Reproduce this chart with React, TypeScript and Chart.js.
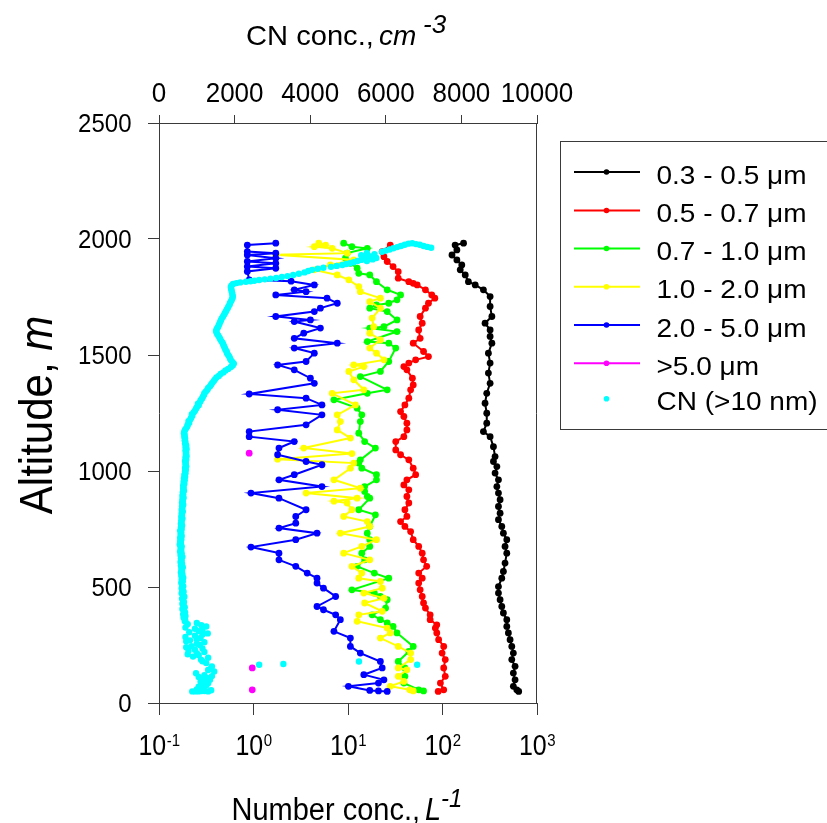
import React, { useEffect, useRef } from 'react';
import { Chart, registerables } from 'chart.js';

Chart.register(...registerables);

const W = 827;
const H = 823;
const FONT = '"Liberation Sans", Arial, Helvetica, sans-serif';
const AXIS = '#3a3a3a';

// [altitude (m), number concentration (L^-1)]
const bin03to05: [number, number][] = [
  [50, 640], [57, 611], [72, 562], [100, 586], [129, 562], [158, 586], [187, 541], [215, 562], [244, 541], [273, 519],
  [302, 498], [330, 479], [359, 479], [388, 441], [416, 424], [445, 407], [474, 391], [502, 391], [538, 424], [567, 441],
  [603, 459], [646, 479], [675, 459], [704, 479], [732, 441], [761, 424], [790, 391], [818, 407], [847, 391], [876, 407],
  [905, 391], [933, 376], [962, 391], [991, 360], [1019, 376], [1041, 346], [1062, 360], [1105, 346], [1148, 319], [1170, 271],
  [1206, 294], [1249, 294], [1292, 282], [1335, 294], [1378, 319], [1422, 306], [1465, 319], [1508, 306], [1551, 333], [1580, 319],
  [1608, 319], [1637, 282], [1666, 333], [1709, 319], [1752, 319], [1781, 271], [1802, 222], [1816, 188], [1845, 174], [1867, 154],
  [1888, 160], [1910, 142], [1931, 126], [1953, 142], [1974, 136], [1982, 167],
];

const bin05to07: [number, number][] = [
  [50, 90], [57, 103], [86, 95], [115, 107], [151, 103], [187, 107], [215, 99], [244, 103], [273, 91], [302, 87],
  [323, 84], [337, 87], [359, 74], [380, 74], [409, 66], [431, 63], [459, 61], [488, 58], [517, 56], [538, 61],
  [560, 56], [589, 68], [617, 63], [646, 61], [675, 56], [704, 49], [739, 46], [761, 40], [782, 36], [804, 42],
  [833, 40], [862, 44], [890, 42], [919, 44], [940, 39], [962, 42], [984, 52], [1012, 49], [1048, 44], [1070, 36],
  [1091, 32], [1127, 32], [1148, 39], [1177, 42], [1206, 42], [1235, 39], [1256, 36], [1285, 40], [1314, 44], [1350, 46],
  [1371, 49], [1400, 48], [1436, 42], [1450, 39], [1465, 44], [1479, 52], [1493, 71], [1515, 63], [1551, 49], [1572, 58],
  [1608, 56], [1637, 61], [1666, 58], [1702, 66], [1723, 71], [1745, 83], [1759, 77], [1781, 66], [1802, 54], [1809, 49],
  [1816, 44], [1831, 34], [1859, 34], [1881, 30], [1903, 26], [1924, 24], [1946, 23], [1974, 28],
];

const bin07to10: [number, number][] = [
  [52, 63], [57, 56], [86, 39], [115, 40], [151, 40], [179, 34], [222, 44], [244, 49], [302, 33], [330, 30],
  [345, 26], [359, 22], [380, 18], [409, 25], [445, 26], [459, 22], [474, 19], [488, 11], [538, 27], [560, 19],
  [589, 12.5], [617, 15], [646, 14], [675, 17], [704, 17], [732, 16], [761, 17], [811, 19.5], [833, 13], [883, 17],
  [890, 16], [912, 15], [933, 15], [962, 20], [984, 20], [1012, 14], [1034, 13], [1048, 13.5], [1099, 19.5], [1127, 15],
  [1163, 13], [1213, 13.5], [1242, 14], [1271, 12.5], [1307, 7.1], [1335, 16], [1350, 26], [1407, 13.5], [1429, 22], [1472, 27],
  [1530, 32], [1551, 27], [1558, 16], [1601, 33], [1616, 17], [1622, 24], [1651, 33], [1687, 26], [1702, 17], [1716, 20],
  [1723, 27], [1738, 33], [1759, 36], [1781, 26], [1816, 20], [1845, 17], [1852, 13], [1874, 12.5], [1895, 10.6], [1917, 9.4],
  [1939, 9.8], [1960, 16], [1967, 11], [1982, 9],
];

const bin10to20: [number, number][] = [
  [52, 49], [57, 45], [72, 28], [93, 39], [115, 34], [143, 42], [151, 34], [187, 46], [215, 46], [244, 34],
  [280, 22], [302, 28], [323, 26], [352, 12.5], [380, 13], [395, 23], [431, 15], [452, 24], [474, 14.7], [495, 23],
  [524, 22], [538, 13], [560, 14], [589, 11], [617, 17], [646, 9], [675, 14], [704, 20], [732, 8.3], [761, 17],
  [782, 16], [804, 9], [833, 11], [862, 9.8], [870, 7.1], [883, 12.5], [905, 3.6], [926, 13.5], [962, 7.1], [1012, 10.6],
  [1034, 11.5], [1051, 1.8], [1075, 11], [1099, 3.4], [1142, 10.6], [1177, 7.7], [1213, 8.3], [1242, 7.7], [1285, 12], [1335, 6.8],
  [1350, 14.7], [1393, 11.5], [1429, 10.2], [1450, 14.7], [1457, 11.5], [1479, 24], [1508, 20], [1530, 17], [1565, 22], [1594, 17],
  [1622, 18.7], [1659, 18], [1702, 22], [1730, 17], [1745, 22], [1773, 13.5], [1795, 13], [1824, 10.2], [1845, 7.7], [1867, 4.4],
  [1888, 6.5], [1910, 11.5], [1932, 1.7], [1939, 9.8], [1960, 6.8], [1967, 4.4], [1974, 5.8], [1982, 4.9],
];

const bin20to50: [number, number][] = [
  [50, 26], [52, 21], [54, 17], [72, 10.1], [86, 21], [100, 24], [122, 14.7], [151, 23], [179, 22], [215, 13.5],
  [244, 10.6], [280, 10.6], [309, 7.1], [359, 8.3], [380, 7.4], [402, 5.5], [416, 4.7], [459, 7.4], [495, 5.5], [517, 4.7],
  [538, 4.7], [560, 3.7], [589, 2.8], [617, 1.86], [646, 1.86], [672, 0.94], [704, 2.8], [732, 4.7], [754, 1.86], [775, 2.8],
  [804, 2.8], [833, 3.6], [883, 1.86], [905, 0.94], [933, 5.3], [962, 1.86], [984, 2.7], [1027, 5.3], [1041, 3.6], [1070, 1.8],
  [1099, 1.86], [1127, 2.7], [1148, 0.9], [1170, 0.9], [1199, 3.6], [1242, 5.3], [1264, 1.8], [1285, 5.3], [1314, 3.6], [1332, 0.9],
  [1378, 4.4], [1400, 4.0], [1436, 2.7], [1457, 1.8], [1472, 3.6], [1508, 4.4], [1530, 2.7], [1551, 7.7], [1572, 2.7], [1594, 3.4],
  [1616, 5.1], [1644, 2.7], [1651, 4.0], [1666, 1.72], [1687, 4.4], [1702, 5.1], [1723, 7.7], [1745, 6.0], [1759, 1.72], [1773, 3.6],
  [1781, 2.7], [1802, 4.4], [1818, 2.5], [1824, 0.9], [1860, 0.86], [1874, 1.72], [1881, 0.86], [1895, 1.72], [1903, 0.86], [1917, 1.72],
  [1931, 0.86], [1939, 1.72], [1946, 0.86], [1974, 0.86], [1982, 1.72],
];

const binOver50: [number, number][] = [
  [57, 0.97], [151, 0.97], [1077, 0.9],
];

// [altitude (m), CN concentration (cm^-3)]
const cnProfile: [number, number][] = [
  [50, 880], [50, 960], [50, 1050], [52, 1130], [52, 1200], [50, 1300], [55, 1380], [58, 1000], [62, 1100], [66, 1180],
  [70, 1050], [75, 1250], [80, 1150], [85, 1300], [88, 1200], [92, 1100], [96, 1250], [100, 1350], [104, 1150], [108, 1270],
  [112, 1050], [116, 1400], [120, 1200], [128, 980], [136, 1460], [142, 1300], [150, 1380], [158, 1400], [165, 2650], [168, 3290],
  [179, 5290], [165, 6830], [172, 1250], [180, 1150], [187, 1110], [195, 1300], [200, 900], [206, 1050], [210, 760], [215, 1000],
  [220, 1200], [225, 780], [230, 950], [235, 1150], [240, 720], [245, 860], [250, 1080], [255, 1000], [262, 1200], [266, 720],
  [270, 820], [275, 1000], [280, 1100], [285, 700], [290, 950], [295, 1150], [300, 1290], [305, 800], [310, 1050], [315, 1150],
  [320, 950], [325, 700], [330, 1250], [335, 1120], [340, 760], [345, 1000], [350, 700], [355, 680], [360, 690], [368, 650],
  [375, 700], [383, 640], [390, 690], [398, 660], [405, 620], [413, 680], [420, 650], [428, 620], [435, 660], [443, 640],
  [450, 610], [458, 670], [465, 640], [473, 600], [480, 650], [488, 620], [495, 600], [503, 640], [510, 610], [518, 590],
  [525, 630], [533, 600], [540, 640], [548, 590], [555, 620], [563, 580], [570, 610], [578, 590], [585, 630], [593, 580],
  [600, 610], [608, 570], [615, 600], [623, 580], [630, 620], [638, 570], [645, 600], [653, 560], [660, 590], [668, 570],
  [675, 600], [683, 550], [690, 580], [698, 560], [705, 590], [713, 560], [720, 600], [728, 570], [735, 590], [743, 560],
  [750, 600], [758, 580], [765, 610], [773, 580], [780, 600], [788, 590], [795, 620], [803, 590], [810, 610], [818, 600],
  [825, 630], [833, 600], [840, 620], [848, 610], [855, 640], [863, 610], [870, 630], [878, 620], [885, 650], [893, 620],
  [900, 640], [908, 630], [915, 660], [923, 640], [930, 650], [938, 640], [945, 670], [953, 650], [960, 680], [968, 660],
  [975, 690], [983, 670], [990, 700], [998, 690], [1005, 710], [1013, 690], [1020, 720], [1028, 700], [1035, 710], [1043, 690],
  [1050, 720], [1058, 700], [1065, 730], [1073, 710], [1080, 720], [1088, 700], [1095, 730], [1103, 700], [1110, 720], [1118, 690],
  [1125, 700], [1133, 680], [1140, 690], [1148, 670], [1155, 680], [1163, 660], [1170, 670], [1178, 690], [1185, 720], [1193, 750],
  [1200, 760], [1208, 800], [1215, 780], [1223, 830], [1230, 850], [1238, 880], [1245, 870], [1253, 920], [1260, 950], [1268, 980],
  [1275, 1000], [1283, 1050], [1290, 1030], [1298, 1090], [1305, 1100], [1313, 1140], [1320, 1160], [1328, 1190], [1335, 1200], [1343, 1240],
  [1350, 1280], [1358, 1300], [1365, 1350], [1373, 1380], [1380, 1410], [1388, 1450], [1395, 1480], [1403, 1520], [1410, 1580], [1418, 1630],
  [1425, 1700], [1433, 1760], [1440, 1830], [1448, 1900], [1455, 1950], [1463, 1980], [1470, 1940], [1478, 1900], [1485, 1880], [1493, 1860],
  [1500, 1830], [1508, 1800], [1515, 1790], [1523, 1760], [1530, 1740], [1538, 1720], [1545, 1700], [1553, 1680], [1560, 1650], [1568, 1620],
  [1575, 1600], [1583, 1570], [1590, 1540], [1598, 1520], [1605, 1510], [1613, 1530], [1620, 1560], [1628, 1580], [1635, 1600], [1643, 1620],
  [1650, 1640], [1658, 1660], [1665, 1690], [1673, 1720], [1680, 1740], [1688, 1770], [1695, 1790], [1703, 1820], [1710, 1840], [1718, 1870],
  [1725, 1880], [1733, 1910], [1740, 1930], [1748, 1950], [1755, 1950], [1763, 1940], [1770, 1930], [1778, 1920], [1785, 1910], [1793, 1900],
  [1800, 1920], [1806, 1960], [1810, 2050], [1813, 2150], [1816, 2300], [1818, 2420], [1820, 2520], [1823, 2650], [1826, 2800], [1829, 2950],
  [1832, 3100], [1836, 3250], [1840, 3400], [1845, 3550], [1850, 3700], [1856, 3850], [1862, 3950], [1867, 4050], [1872, 4200], [1876, 4350],
  [1880, 4550], [1884, 4700], [1888, 4850], [1892, 4950], [1896, 5050], [1900, 5150], [1905, 5250], [1910, 5350], [1915, 5400], [1920, 5450],
  [1905, 5500], [1912, 5650], [1918, 5750], [1925, 5600], [1930, 5350], [1935, 5700], [1940, 5500], [1945, 5900], [1950, 6000], [1955, 6100],
  [1960, 6200], [1965, 6300], [1970, 6400], [1975, 6500], [1980, 6600], [1982, 6700], [1978, 6800], [1975, 6900], [1970, 7000], [1966, 7100],
  [1962, 7200],
];

const legendLabels = ['0.3 - 0.5 \u03BCm', '0.5 - 0.7 \u03BCm', '0.7 - 1.0 \u03BCm', '1.0 - 2.0 \u03BCm', '2.0 - 5.0 \u03BCm', '>5.0 \u03BCm', 'CN (>10 nm)'];
const seriesColors = ['#000000', '#ff0000', '#00ff00', '#ffff00', '#0000ff', '#ff00ff', '#00ffff'];

const altitudeTicks = [0, 500, 1000, 1500, 2000, 2500];
const numberTicks = [0.1, 1, 10, 100, 1000];
const numberTickExponents = ['-1', '0', '1', '2', '3'];
const cnTicks = [0, 2000, 4000, 6000, 8000, 10000];

function setFont(ctx: CanvasRenderingContext2D, size: number, italic = false) {
  ctx.font = `${italic ? 'italic ' : ''}${size}px ${FONT}`;
}
function textW(ctx: CanvasRenderingContext2D, t: string, size: number, italic = false, sx = 1) {
  setFont(ctx, size, italic);
  return ctx.measureText(t).width * sx;
}
function put(ctx: CanvasRenderingContext2D, t: string, x: number, y: number, size: number, italic = false, sx = 1, sy = 1) {
  ctx.save();
  setFont(ctx, size, italic);
  ctx.textAlign = 'left';
  ctx.textBaseline = 'alphabetic';
  ctx.fillStyle = '#000';
  ctx.translate(x, y);
  ctx.scale(sx, sy);
  ctx.fillText(t, 0, 0);
  ctx.restore();
}

const decorPlugin = {
  id: 'decor',
  beforeDraw(chart: any) {
    const ctx = chart.ctx as CanvasRenderingContext2D;
    ctx.save();
    ctx.fillStyle = '#fff';
    ctx.fillRect(0, 0, chart.width, chart.height);
    ctx.restore();
  },
  afterDraw(chart: any) {
    const ctx = chart.ctx as CanvasRenderingContext2D;
    const area = chart.chartArea;
    const ys = chart.scales.y;
    const xs = chart.scales.x;
    const x2 = chart.scales.x2;

    // right frame line
    ctx.save();
    ctx.strokeStyle = AXIS;
    ctx.lineWidth = 1;
    ctx.beginPath();
    ctx.moveTo(Math.round(area.right) - 0.5, Math.round(area.top));
    ctx.lineTo(Math.round(area.right) - 0.5, Math.round(area.bottom) + 1);
    ctx.stroke();
    ctx.restore();

    // left tick labels
    altitudeTicks.forEach((v) => {
      const y = ys.getPixelForValue(v);
      const t = String(v);
      const w = textW(ctx, t, 24);
      put(ctx, t, 131.5 - w, y + 9, 24, false, 1, 1.05);
    });

    // top tick labels
    cnTicks.forEach((v) => {
      const x = x2.getPixelForValue(v);
      const t = String(v);
      const w = textW(ctx, t, 26);
      put(ctx, t, x - w / 2, 101.5, 26, false, 1, 1.07);
    });

    // bottom tick labels 10^n
    numberTicks.forEach((v, i) => {
      const x = xs.getPixelForValue(v);
      const wb = textW(ctx, '10', 25);
      const we = textW(ctx, numberTickExponents[i], 15);
      const x0 = x - (wb + we) / 2;
      put(ctx, '10', x0, 755, 25, false, 1, 1.17);
      put(ctx, numberTickExponents[i], x0 + wb + 0.5, 746, 15, false, 1, 1.1);
    });

    // top title
    put(ctx, 'CN conc.,', 246, 45, 28, false, 1.04, 0.98);
    put(ctx, 'cm', 379, 45, 28, true, 1, 0.98);
    put(ctx, '-3', 423, 33, 26, true, 1, 1.0);

    // bottom title
    put(ctx, 'Number conc.,', 231.5, 820, 29, false, 1, 1.1);
    put(ctx, 'L', 425, 820, 29, true, 1, 1.1);
    put(ctx, '-1', 441, 807, 24, true, 1, 1.1);

    // y title (rotated)
    ctx.save();
    ctx.translate(52, 415);
    ctx.rotate(-Math.PI / 2);
    const wa = textW(ctx, 'Altitude, ', 42);
    const wm = textW(ctx, 'm', 42, true);
    const s0 = -(wa + wm) / 2;
    put(ctx, 'Altitude, ', s0, 0, 42, false, 1, 1.1);
    put(ctx, 'm', s0 + wa, 0, 42, true, 1, 1.1);
    ctx.restore();

    // legend
    ctx.save();
    ctx.strokeStyle = AXIS;
    ctx.lineWidth = 1;
    ctx.strokeRect(560.5, 141.5, 400, 288);
    const rows = [172, 210.5, 248.5, 286.7, 325, 363.3, 398.7];
    legendLabels.forEach((lab, i) => {
      const y = rows[i];
      const c = seriesColors[i];
      if (i < 6) {
        ctx.strokeStyle = c;
        ctx.lineWidth = 2;
        ctx.beginPath();
        ctx.moveTo(574, y);
        ctx.lineTo(640, y);
        ctx.stroke();
      }
      ctx.fillStyle = c;
      ctx.beginPath();
      ctx.arc(606.5, y, 2.8, 0, Math.PI * 2);
      ctx.fill();
      put(ctx, lab, 656.5, y + 11.6, 25, false, 1.12, 1.03);
    });
    ctx.restore();
  },
};

function toXY(pairs: [number, number][]) {
  return pairs.map(([alt, v]) => ({ x: v, y: alt }));
}

export default function App() {
  const ref = useRef<HTMLCanvasElement>(null);

  useEffect(() => {
    const bins = [bin03to05, bin05to07, bin07to10, bin10to20, bin20to50];
    const datasets: any[] = bins.map((b, i) => ({
      label: legendLabels[i],
      data: toXY(b),
      showLine: true,
      borderColor: seriesColors[i],
      backgroundColor: seriesColors[i],
      pointBackgroundColor: seriesColors[i],
      pointBorderWidth: 0,
      pointRadius: 3.4,
      borderWidth: 2,
      tension: 0,
      xAxisID: 'x',
      yAxisID: 'y',
      order: 6 - i,
    }));
    datasets.push({
      label: legendLabels[5],
      data: toXY(binOver50),
      showLine: false,
      backgroundColor: seriesColors[5],
      pointBackgroundColor: seriesColors[5],
      pointBorderWidth: 0,
      pointRadius: 3.4,
      xAxisID: 'x',
      yAxisID: 'y',
      order: 1,
    });
    datasets.push({
      label: legendLabels[6],
      data: toXY(cnProfile),
      showLine: false,
      backgroundColor: seriesColors[6],
      pointBackgroundColor: seriesColors[6],
      pointBorderWidth: 0,
      pointRadius: 3.2,
      xAxisID: 'x2',
      yAxisID: 'y',
      order: 0,
    });

    const chart = new Chart(ref.current as HTMLCanvasElement, {
      type: 'scatter',
      data: { datasets },
      options: {
        responsive: false,
        animation: false,
        events: [],
        layout: { padding: { left: 0, right: W - 537, top: 0, bottom: 0 } },
        plugins: { legend: { display: false }, tooltip: { enabled: false } },
        scales: {
          x: {
            type: 'logarithmic',
            position: 'bottom',
            min: 0.1,
            max: 1000,
            afterBuildTicks: (s: any) => { s.ticks = numberTicks.map((v) => ({ value: v })); },
            afterFit: (s: any) => { s.height = H - 703; },
            ticks: { display: false },
            grid: { drawOnChartArea: false, tickLength: 12, color: AXIS, lineWidth: 1 },
            border: { color: AXIS, width: 1 },
          },
          x2: {
            type: 'linear',
            position: 'top',
            min: 0,
            max: 10000,
            afterBuildTicks: (s: any) => { s.ticks = cnTicks.map((v) => ({ value: v })); },
            afterFit: (s: any) => { s.height = 123; },
            ticks: { display: false },
            grid: { drawOnChartArea: false, tickLength: 8, color: AXIS, lineWidth: 1 },
            border: { color: AXIS, width: 1 },
          },
          y: {
            type: 'linear',
            position: 'left',
            min: 0,
            max: 2500,
            afterBuildTicks: (s: any) => { s.ticks = altitudeTicks.map((v) => ({ value: v })); },
            afterFit: (s: any) => { s.width = 159; },
            ticks: { display: false },
            grid: { drawOnChartArea: false, tickLength: 11, color: AXIS, lineWidth: 1 },
            border: { color: AXIS, width: 1 },
          },
        },
      } as any,
      plugins: [decorPlugin],
    });
    return () => chart.destroy();
  }, []);

  return (
    <div style={{ position: 'absolute', left: 0, top: 0, width: W, height: H, background: '#fff' }}>
      <canvas ref={ref} width={W} height={H} style={{ display: 'block', width: W, height: H }} />
    </div>
  );
}
